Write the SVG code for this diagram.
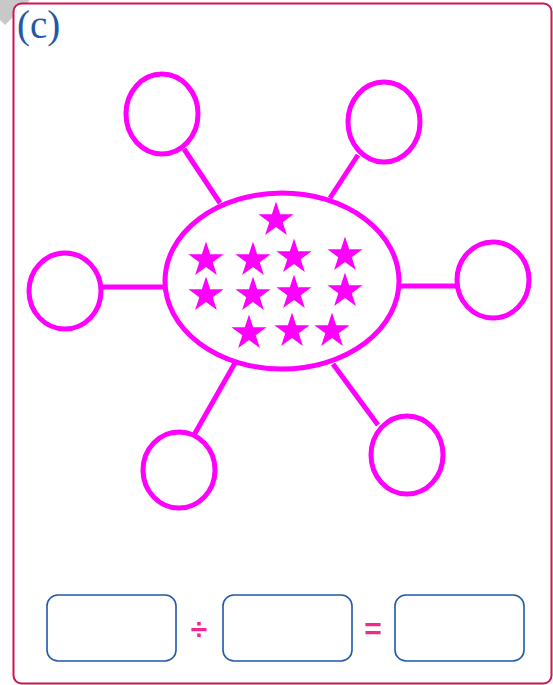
<svg xmlns="http://www.w3.org/2000/svg" width="553" height="685" viewBox="0 0 553 685">
<defs>
<style>
.node{fill:none;stroke:#ff00ff;stroke-width:5}
.link{stroke:#ff00ff;stroke-width:5;fill:none}
.star{fill:#ff00ff}
.box{fill:#ffffff;stroke:#1f5aa6;stroke-width:1.6}
.op{font-family:"Liberation Sans",Arial,sans-serif;font-size:30px;font-weight:bold;fill:#ee2a8a;text-anchor:middle}
.lbl{font-family:"Liberation Serif","Times New Roman",serif;font-size:39px;fill:#1f5aa6}
</style>
<polygon id="s" points="0,-18.5 4.15,-5.72 17.6,-5.72 6.72,2.18 10.87,14.97 0,7.07 -10.87,14.97 -6.72,2.18 -17.6,-5.72 -4.15,-5.72"/>
</defs>
<rect width="553" height="685" fill="#ffffff"/>
<polygon points="0,0 30,0 5,25 0,20" fill="#c8c8c8"/>
<rect x="13.5" y="3.5" width="538" height="680" rx="8" fill="#ffffff" stroke="#cc1550" stroke-width="2"/>
<text class="lbl" x="17" y="38">(c)</text>
<g id="connectors">
<line class="link" x1="184" y1="149" x2="220" y2="203"/>
<line class="link" x1="358" y1="155" x2="330" y2="198"/>
<line class="link" x1="101" y1="287" x2="166" y2="287"/>
<line class="link" x1="398" y1="286" x2="457" y2="286"/>
<line class="link" x1="235" y1="363" x2="194" y2="435"/>
<line class="link" x1="333" y1="364" x2="378" y2="425"/>
</g>
<g id="center">
<ellipse class="node" cx="282" cy="281" rx="117" ry="88"/>
<g class="star">
<use href="#s" x="276" y="220"/>
<use href="#s" x="206" y="260"/>
<use href="#s" x="253" y="260"/>
<use href="#s" x="294" y="257"/>
<use href="#s" x="345" y="255"/>
<use href="#s" x="206" y="295"/>
<use href="#s" x="253" y="295"/>
<use href="#s" x="294" y="293"/>
<use href="#s" x="345" y="291"/>
<use href="#s" x="249" y="333"/>
<use href="#s" x="292" y="331"/>
<use href="#s" x="332" y="331"/>
</g>
</g>
<g id="c1"><ellipse class="node" cx="162" cy="114" rx="36" ry="40"/></g>
<g id="c2"><ellipse class="node" cx="384" cy="122" rx="36" ry="40"/></g>
<g id="c3"><ellipse class="node" cx="65" cy="291" rx="36" ry="38"/></g>
<g id="c4"><ellipse class="node" cx="493" cy="280" rx="36" ry="38"/></g>
<g id="c5"><ellipse class="node" cx="179" cy="470" rx="36" ry="38"/></g>
<g id="c6"><ellipse class="node" cx="407" cy="455" rx="36" ry="39"/></g>
<g id="b1"><rect class="box" x="47" y="595" width="129" height="66" rx="11"/></g>
<text class="op" x="199" y="639">÷</text>
<g id="b2"><rect class="box" x="223" y="595" width="129" height="66" rx="11"/></g>
<text class="op" x="373" y="639">=</text>
<g id="b3"><rect class="box" x="395" y="595" width="129" height="66" rx="11"/></g>
</svg>
